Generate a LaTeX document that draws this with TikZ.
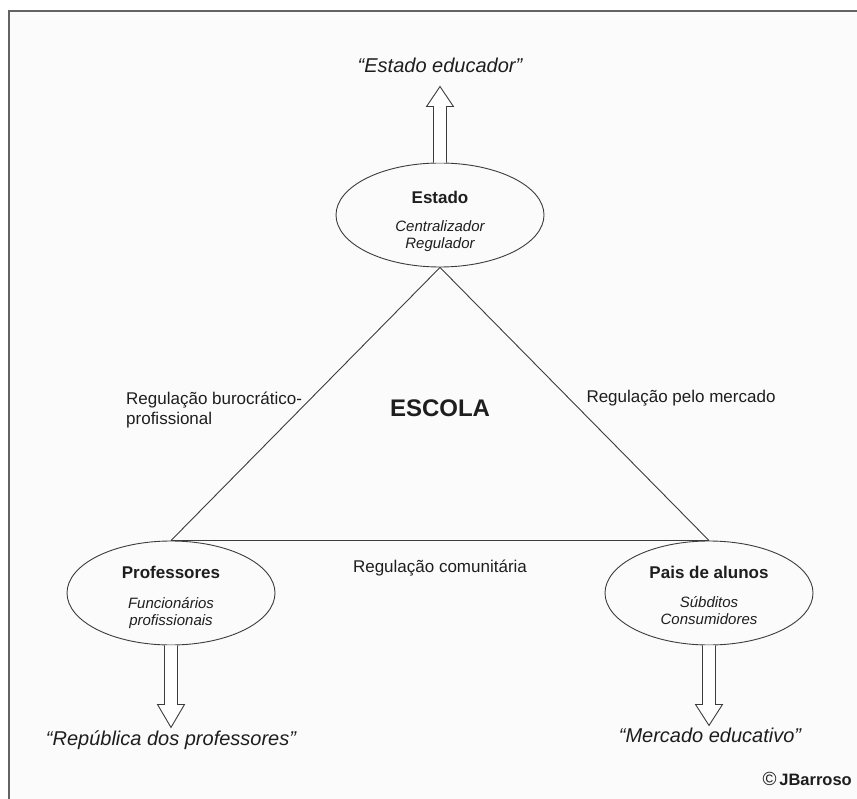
\documentclass[tikz,border=0pt]{standalone}
\usepackage{fontspec}
\setmainfont{Liberation Sans}
\usetikzlibrary{shapes.geometric}
\definecolor{linecol}{HTML}{3C3C3C}
\definecolor{txtcol}{HTML}{1E1E1E}
\tikzset{
  x=1pt, y=-1pt,
  oval/.style={ellipse, draw=linecol, line width=0.9pt, minimum width=208pt, minimum height=104pt, inner sep=0pt},
  edge/.style={draw=linecol, line width=0.9pt},
  blockarrow/.style={draw=linecol, line width=0.9pt, line join=miter},
  title/.style={font=\fontsize{17}{20}\selectfont\bfseries, text=txtcol, inner sep=0pt},
  sub/.style={font=\fontsize{15}{17}\selectfont\itshape, text=txtcol, align=center, inner sep=0pt},
  outcome/.style={font=\fontsize{20}{24}\selectfont\itshape, text=txtcol, inner sep=0pt},
  reglabel/.style={font=\fontsize{17}{20}\selectfont, text=txtcol, inner sep=0pt},
}
\begin{document}
\begin{tikzpicture}
\useasboundingbox (0,0) rectangle (857,799);
\fill[white] (0,0) rectangle (857,799);
\fill[black!1.5] (9,11) rectangle (857,799);
\draw[draw=linecol!80, line width=1.5pt] (9,799) -- (9,11) -- (857,11);

% ellipses
\node[oval] (estado) at (440,215) {};
\node[oval] (prof) at (171,593) {};
\node[oval] (pais) at (709,593) {};

% triangle
\draw[edge] (estado.south) -- (prof.north);
\draw[edge] (estado.south) -- (pais.north);
\draw[edge] (prof.north) -- (pais.north);

% block arrows
\draw[blockarrow, fill=white] ([xshift=-6.5pt]estado.north) -- ++(0,-56) -- ++(-7,0) -- ++(13.5,-20) -- ++(13.5,20) -- ++(-7,0) -- ++(0,56);
\draw[blockarrow, fill=white] ([xshift=-6.5pt]prof.south) -- ++(0,59) -- ++(-7,0) -- ++(13.5,23) -- ++(13.5,-23) -- ++(-7,0) -- ++(0,-59);
\draw[blockarrow, fill=white] ([xshift=-6.5pt]pais.south) -- ++(0,59) -- ++(-7,0) -- ++(13.5,21) -- ++(13.5,-21) -- ++(-7,0) -- ++(0,-59);

% ellipse texts
\node[title] (estadoT) at (440,197) {Estado};
\node[sub] (estadoS) at (440,236) {Centralizador\\Regulador};
\node[title] (profT) at (171,572) {Professores};
\node[sub] (profS) at (171,613) {Funcionários\\profissionais};
\node[title] (paisT) at (709,572) {Pais de alunos};
\node[sub] (paisS) at (709,611) {Súbditos\\Consumidores};

% outcomes
\node[outcome] (o1) at (440,65) {“Estado educador”};
\node[outcome] (o2) at (171,740) {“República dos professores”};
\node[outcome] (o3) at (710,735) {“Mercado educativo”};

% labels
\node[font=\fontsize{24}{28}\selectfont\bfseries, text=txtcol, inner sep=0pt] (escola) at (440,408) {ESCOLA};
\node[reglabel, anchor=west, align=left] (r1) at (126,410) {Regulação burocrático-\\profissional};
\node[reglabel] (r2) at (681,398) {Regulação pelo mercado};
\node[reglabel] (r3) at (440,568) {Regulação comunitária};
\node[text=txtcol, inner sep=0pt, anchor=east] (copy) at (852,779) {{\fontsize{19}{20}\selectfont ©} {\fontsize{16.5}{19}\selectfont\bfseries JBarroso}};
\end{tikzpicture}
\end{document}
